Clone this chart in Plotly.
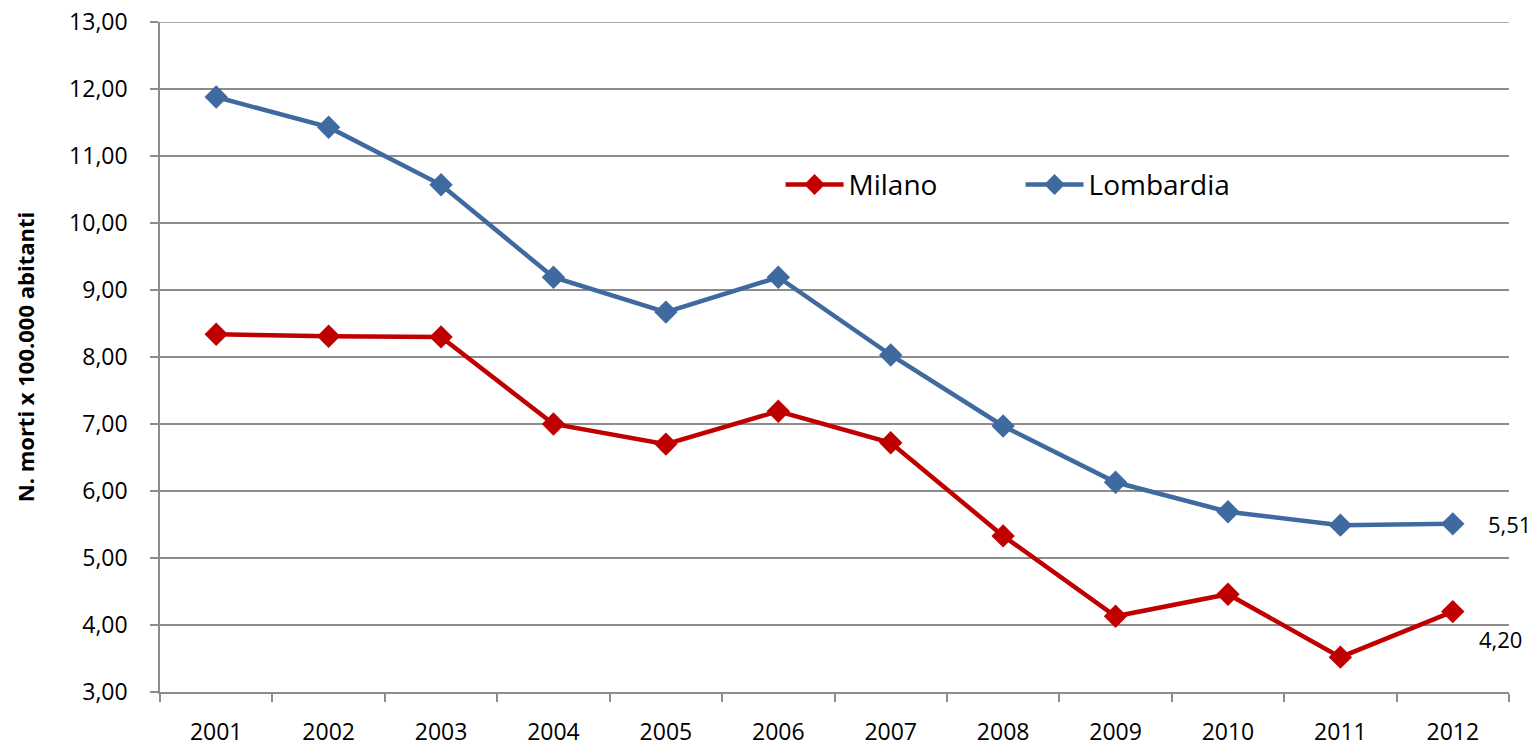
import plotly.graph_objects as go

years = ["2001", "2002", "2003", "2004", "2005", "2006",
         "2007", "2008", "2009", "2010", "2011", "2012"]
milano = [8.34, 8.31, 8.30, 7.00, 6.70, 7.19, 6.72, 5.33, 4.13, 4.46, 3.52, 4.20]
lombardia = [11.88, 11.43, 10.57, 9.19, 8.67, 9.19, 8.03, 6.97, 6.13, 5.69, 5.49, 5.51]
y_ticks = [3, 4, 5, 6, 7, 8, 9, 10, 11, 12, 13]

RED = "#C00000"
BLUE = "#3F6A9F"
GRID = "#8C8C8C"
FONT = "Open Sans"

fig = go.Figure()
fig.add_trace(go.Scatter(x=years, y=milano, name="Milano", mode="lines+markers",
                         line=dict(color=RED, width=4.5),
                         marker=dict(symbol="diamond", size=18, color=RED)))
fig.add_trace(go.Scatter(x=years, y=lombardia, name="Lombardia", mode="lines+markers",
                         line=dict(color=BLUE, width=4.5),
                         marker=dict(symbol="diamond", size=18, color=BLUE)))

# end-of-series value labels (category axis -> index position)
last = len(years) - 1
fig.add_annotation(x=last, y=lombardia[-1], text="5,51", showarrow=False,
                   xanchor="left", xshift=33, font=dict(size=22, color="black", family=FONT))
fig.add_annotation(x=last, y=milano[-1], text="4,20", showarrow=False,
                   xanchor="left", xshift=24, yshift=-27, font=dict(size=22, color="black", family=FONT))

# top gridline sits on the plot edge, plotly drops it -> draw it explicitly
fig.add_hline(y=y_ticks[-1], line=dict(color=GRID, width=1.5), layer="below")

fig.update_layout(
    width=1538, height=749,
    margin=dict(l=160, r=29, t=22, b=57),
    paper_bgcolor="white", plot_bgcolor="white",
    separators=",.",
    font=dict(family=FONT, color="black", size=22),
    showlegend=True,
    legend=dict(orientation="h", x=0.46, y=0.757, xanchor="left", yanchor="middle",
                font=dict(size=28, family=FONT), itemwidth=58,
                bgcolor="rgba(0,0,0,0)", entrywidthmode="pixels", entrywidth=167),
)
fig.update_xaxes(type="category", range=[-0.5, 11.5], tickson="boundaries",
                 ticks="outside", ticklen=8, tickcolor=GRID, tickwidth=1.5,
                 showline=True, linecolor=GRID, linewidth=1.5, showgrid=False,
                 ticklabelstandoff=19,
                 automargin=False, tickfont=dict(size=23, family=FONT))
fig.update_yaxes(range=[3, 13], tickmode="array", tickvals=y_ticks, tickformat=".2f",
                 ticks="outside", ticklen=8, tickcolor=GRID, tickwidth=1.5,
                 showline=True, linecolor=GRID, linewidth=1.5,
                 showgrid=True, gridcolor=GRID, gridwidth=1.5, zeroline=False,
                 ticklabelstandoff=18, ticklabeloverflow="allow",
                 automargin=False, tickfont=dict(size=23, family=FONT),
                 title=dict(text="<b>N. morti x 100.000 abitanti</b>",
                            font=dict(size=22, family=FONT), standoff=28))

# drop the default 8px page margin so the figure fills the window exactly
fig.write_html("out.html", config={"displayModeBar": False},
               post_script="document.body.style.margin = '0';")
